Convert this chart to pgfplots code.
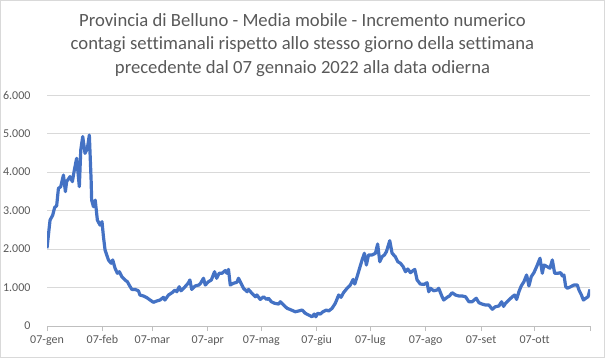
\documentclass[border=0pt]{standalone}
\usepackage{fontspec}
\setmainfont[Ligatures=NoCommon]{Carlito}
\usepackage{pgfplots}
\pgfplotsset{compat=1.18}
\definecolor{exblue}{HTML}{4472C4}
\definecolor{txtgray}{HTML}{595959}
\definecolor{gridgray}{HTML}{D9D9D9}
\definecolor{axgray}{HTML}{BFBFBF}
\begin{document}
\begin{tikzpicture}
\useasboundingbox (0,0) rectangle (605bp,358bp);
\draw[gridgray, line width=0.75bp] (0.4bp,0.4bp) rectangle (604.6bp,357.6bp);
\node[align=center, text=txtgray, font=\fontsize{18.67bp}{23.5bp}\selectfont] at (302.5bp,313bp) {Provincia di Belluno - Media mobile - Incremento numerico\\contagi settimanali rispetto allo stesso giorno della settimana\\precedente dal 07 gennaio 2022 alla data odierna};
\begin{axis}[
  at={(47bp,32bp)}, anchor=south west, scale only axis,
  width=543bp, height=231bp,
  xmin=0, xmax=304, ymin=0, ymax=6000,
  enlargelimits=false,
  axis lines*=left,
  y axis line style={draw=none},
  x axis line style={draw=axgray, line width=0.75bp},
  ytick={0,1000,2000,3000,4000,5000,6000},
  yticklabels={0,1.000,2.000,3.000,4.000,5.000,6.000},
  xtick={0,31,59,90,120,151,181,212,243,273,304},
  xticklabels={07-gen,07-feb,07-mar,07-apr,07-mag,07-giu,07-lug,07-ago,07-set,07-ott,{}},
  ytick style={draw=none},
  xtick style={draw=axgray, line width=0.75bp},
  tick align=outside,
  major tick length=5bp,
  ymajorgrids,
  grid style={draw=gridgray, line width=0.75bp},
  tick label style={font=\fontsize{12bp}{14bp}\selectfont, text=txtgray},
  yticklabel style={xshift=-8bp},
  xticklabel style={yshift=-1bp},
]
\addplot[exblue, line width=3.2bp, line join=round, mark=none] coordinates {
(0,2020) (1.7,2750) (3.2,2880) (4.3,3080) (5.4,3120) (6.4,3575) (7.7,3620)
(9.2,3920) (10.3,3490) (11,3750) (12.9,3880) (14.2,3750) (15.3,4050) (16.6,4355)
(18.1,3620) (18.9,4570) (20,4920) (21.3,4485) (22.6,4615) (23.7,4960) (24.7,3790)
(25,3270) (26,3100) (27,3270) (28.2,2750) (29.7,2620) (30.8,2710) (31.6,2320)
(32.5,1975) (34.4,1715) (35.9,1630) (36.8,1715) (38.1,1500) (39.4,1370) (40.5,1410)
(41.9,1280) (43.7,1195) (45,1150) (46,1065) (47.5,950) (49.3,950) (51.2,915)
(52,805) (54,780) (55.9,735) (57.7,675) (59.6,615) (61.5,650) (63.3,675)
(65.2,745) (66,675) (68,805) (70,865) (71.7,935) (72.7,890) (74,1020) (75,915)
(77,1005) (79,1110) (80,1195) (81,950) (83,1040) (85,1065) (86,1110) (87.6,1240)
(88.6,1065) (90.4,1150) (92,1195) (93.8,1410) (95,1240) (96.4,1370) (98,1370)
(99,1410) (99.8,1440) (100.7,1370) (101.6,1470) (102.6,1065) (104.4,1110)
(106.3,1135) (107.2,1240) (108.2,1150) (110,980) (112,890) (112.8,950) (114.7,850)
(116.6,760) (117.5,805) (119.4,690) (121.2,760) (123,690) (124,720) (125.6,630)
(127.4,590) (129.7,570) (130.6,630) (132.5,545) (134.4,460) (136.8,415) (139,370)
(140.9,390) (142.8,415) (144.6,330) (146.5,285) (148.4,240) (149.6,310) (150.5,240)
(151.5,330) (153,310) (154.5,370) (156.4,415) (157.7,390) (159.6,460) (161.4,590)
(163.3,805) (164.6,745) (166,865) (168,980) (169.8,1065) (171.4,1210) (172.3,1090)
(173.6,1280) (175,1500) (176.4,1715) (177.7,1890) (178.8,1585) (180,1845)
(182,1845) (183.9,1890) (185.1,2130) (186.3,1670) (187.6,1800) (188.9,1845)
(190,1930) (191.9,2215) (193.2,1890) (195,1800) (196.4,1670) (197.9,1630)
(199.4,1540) (200.7,1410) (202,1480) (203.5,1385) (204.8,1435) (205.9,1470)
(207.2,1195) (209,1090) (211,1080) (212.8,1125) (213.7,890) (214.7,980) (216.5,915)
(218.4,935) (219.3,980) (221.2,760) (222.1,675) (224,745) (225.3,780) (226.8,865)
(228.7,805) (230.5,780) (232.4,780) (234.3,760) (236.2,630) (238,630) (240.3,720)
(241.8,605) (243.6,570) (245.5,545) (247.4,545) (249.3,435) (251,500) (253,520)
(254.5,630) (255.6,510) (256.7,590) (258.6,675) (260.5,760) (261.8,805) (262.9,690)
(264.2,890) (265.5,1040) (267,1150) (268.5,1325) (269.8,1040) (271.1,1280)
(272.6,1385) (274.1,1540) (276,1760) (277.3,1370) (278.2,1585) (280.1,1540)
(281.6,1500) (282.9,1715) (284.2,1370) (286,1370) (287.6,1385) (288.5,1300)
(289.4,1325) (290.4,1020) (291.3,980) (293.2,1020) (295,1065) (296.9,1065)
(297.8,935) (299.2,805) (300.3,675) (301.6,720) (302.9,760) (304,950)
};
\end{axis}
\end{tikzpicture}
\end{document}
